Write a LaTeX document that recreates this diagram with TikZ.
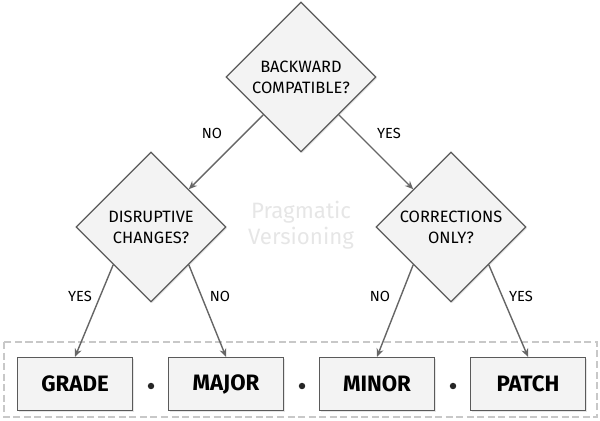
\documentclass[tikz,border=0pt]{standalone}
\usepackage{fontspec}
\setmainfont{Fira Sans}
\usetikzlibrary{shapes.geometric,shadows,arrows.meta}
\definecolor{linegray}{HTML}{5A5A5A}
\definecolor{fillgray}{HTML}{F3F3F3}
\definecolor{arrowgray}{HTML}{666666}
\definecolor{dashgray}{HTML}{C8C8C8}
\definecolor{markgray}{HTML}{E6E6E6}
\begin{document}
\begin{tikzpicture}[x=0.03cm, y=-0.03cm,
  decision/.style={diamond, aspect=1, draw=linegray, fill=fillgray, line width=1.1pt,
    minimum width=4.5cm, minimum height=4.5cm, inner sep=0pt, align=center,
    font=\fontsize{14}{18}\selectfont,
    drop shadow={opacity=0.2, shadow xshift=1pt, shadow yshift=-1pt}},
  part/.style={rectangle, draw=linegray, fill=fillgray, line width=1.1pt,
    minimum width=3.45cm, minimum height=1.59cm, inner sep=0pt,
    font=\fontsize{19}{22}\selectfont\bfseries,
    drop shadow={opacity=0.2, shadow xshift=1pt, shadow yshift=-1pt}},
  answer/.style={font=\fontsize{12.5}{14}\selectfont},
  sepdot/.style={circle, fill=black!85, inner sep=0pt, minimum size=5.5pt},
  flow/.style={-{Stealth[length=7pt,width=6pt]}, draw=arrowgray, line width=1.2pt}]
  \useasboundingbox (0,0) rectangle (600,420);
  % version parts frame
  \draw[dashgray, line width=1pt, dash pattern=on 6pt off 3pt] (4,342) rectangle (597,417);
  % decisions
  \node[decision] (compat) at (301,77) {BACKWARD\\COMPATIBLE?};
  \node[decision] (disrupt) at (151,227) {DISRUPTIVE\\CHANGES?};
  \node[decision] (correct) at (451,227) {CORRECTIONS\\ONLY?};
  % watermark
  \node[text=markgray, align=center, font=\fontsize{19}{22}\selectfont] (brand) at (301,225) {Pragmatic\\Versioning};
  % version parts
  \node[part] (grade) at (75,384) {GRADE};
  \node[part] (major) at (226,384) {MAJOR};
  \node[part] (minor) at (377,384) {MINOR};
  \node[part] (patch) at (528,384) {PATCH};
  \node[sepdot] (dota) at (151,386) {};
  \node[sepdot] (dotb) at (302,386) {};
  \node[sepdot] (dotc) at (453,386) {};
  % connectors
  \draw[flow] (compat.south west) -- (disrupt.north east);
  \draw[flow] (compat.south east) -- (correct.north west);
  \draw[flow] (disrupt.south west) -- (grade.north);
  \draw[flow] (disrupt.south east) -- (major.north);
  \draw[flow] (correct.south west) -- (minor.north);
  \draw[flow] (correct.south east) -- (patch.north);
  % answers
  \node[answer] (noa) at (212,133) {NO};
  \node[answer] (yesa) at (389,133) {YES};
  \node[answer] (yesb) at (80,296) {YES};
  \node[answer] (nob) at (220,296) {NO};
  \node[answer] (noc) at (380,296) {NO};
  \node[answer] (yesc) at (521,296) {YES};
\end{tikzpicture}
\end{document}
